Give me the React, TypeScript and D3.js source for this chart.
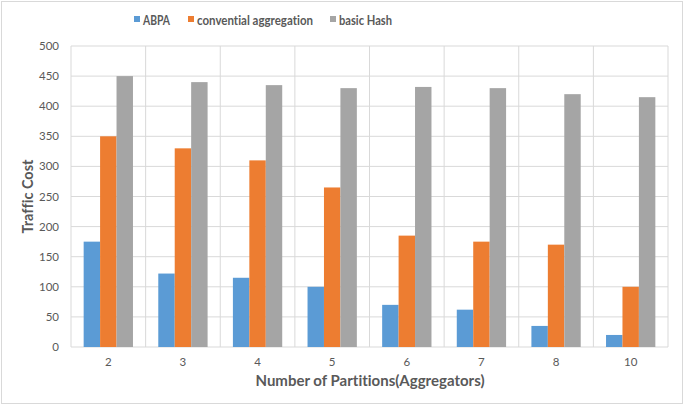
import { useRef, useEffect } from 'react';
import * as d3 from 'd3';

const partitions = ['2', '3', '4', '5', '6', '7', '8', '10'];
const seriesNames = ['ABPA', 'convential aggregation', 'basic Hash'];
const abpa = [175, 122, 115, 100, 70, 62, 35, 20];
const conventional = [350, 330, 310, 265, 185, 175, 170, 100];
const basicHash = [450, 440, 435, 430, 432, 430, 420, 415];
const yTicks = [0, 50, 100, 150, 200, 250, 300, 350, 400, 450, 500];
const colors = ['#5B9BD5', '#ED7D31', '#A5A5A5'];

const W = 685;
const H = 407;
const margin = { top: 46, right: 17, bottom: 60, left: 71 };
const font = 'Lato, "Open Sans", sans-serif';

const App = () => {
  const svgRef = useRef<SVGSVGElement>(null);

  useEffect(() => {
    const svg = d3.select(svgRef.current)
      .attr('width', W)
      .attr('height', H)
      .style('font-variant-ligatures', 'none');
    svg.selectAll('*').remove();

    // outer chart frame
    svg.append('rect')
      .attr('x', 1.5).attr('y', 1.5)
      .attr('width', W - 4).attr('height', H - 5)
      .attr('fill', '#fff')
      .attr('stroke', '#d9d9d9');

    const innerW = W - margin.left - margin.right;
    const innerH = H - margin.top - margin.bottom;
    const g = svg.append('g').attr('transform', `translate(${margin.left},${margin.top})`);

    const x = d3.scaleBand().domain(partitions).range([0, innerW]);
    const xs = d3.scaleBand().domain(seriesNames).range([0, x.bandwidth()]).paddingOuter(0.77);
    const y = d3.scaleLinear().domain([0, 500]).range([innerH, 0]);

    // horizontal gridlines
    g.selectAll('.hgrid')
      .data(yTicks)
      .enter().append('line')
      .attr('x1', 0).attr('x2', innerW)
      .attr('y1', d => y(d)).attr('y2', d => y(d))
      .attr('stroke', '#d9d9d9');

    // vertical category dividers
    const bounds = partitions.map(p => x(p) as number).concat([innerW]);
    g.selectAll('.vgrid')
      .data(bounds)
      .enter().append('line')
      .attr('x1', d => d).attr('x2', d => d)
      .attr('y1', 0).attr('y2', innerH)
      .attr('stroke', '#d9d9d9');

    const values = [abpa, conventional, basicHash];
    seriesNames.forEach((name, si) => {
      g.selectAll(`.bar${si}`)
        .data(values[si])
        .enter().append('rect')
        .attr('x', (_, i) => (x(partitions[i]) as number) + (xs(name) as number))
        .attr('y', d => y(d))
        .attr('width', xs.bandwidth())
        .attr('height', d => innerH - y(d))
        .attr('fill', colors[si]);
    });

    // y tick labels
    g.selectAll('.ylab')
      .data(yTicks)
      .enter().append('text')
      .attr('x', -12)
      .attr('y', d => y(d))
      .attr('dy', '0.35em')
      .attr('text-anchor', 'end')
      .attr('font-family', font)
      .attr('font-size', 11.5)
      .attr('fill', '#595959')
      .text(d => d);

    // x tick labels
    g.selectAll('.xlab')
      .data(partitions)
      .enter().append('text')
      .attr('x', d => (x(d) as number) + x.bandwidth() / 2)
      .attr('y', innerH + 19)
      .attr('text-anchor', 'middle')
      .attr('font-family', font)
      .attr('font-size', 11.5)
      .attr('fill', '#595959')
      .text(d => d);

    // axis titles
    svg.append('text')
      .attr('x', 370)
      .attr('y', 386)
      .attr('text-anchor', 'middle')
      .attr('font-family', font)
      .attr('font-size', 15)
      .attr('font-weight', 'bold')
      .attr('fill', '#595959')
      .text('Number of Partitions(Aggregators)');

    svg.append('text')
      .attr('transform', `translate(33,${margin.top + innerH / 2}) rotate(-90)`)
      .attr('text-anchor', 'middle')
      .attr('font-family', font)
      .attr('font-size', 14.5)
      .attr('font-weight', 'bold')
      .attr('fill', '#595959')
      .text('Traffic Cost');

    // legend
    const legendX = [134, 188, 330];
    const legendW = [27, 116, 53];
    const lg = svg.append('g');
    seriesNames.forEach((name, i) => {
      lg.append('rect')
        .attr('x', legendX[i]).attr('y', 16)
        .attr('width', 6).attr('height', 6)
        .attr('fill', colors[i]);
      lg.append('text')
        .attr('x', legendX[i] + 9)
        .attr('y', 24.5)
        .attr('font-family', font)
        .attr('font-size', 14)
        .attr('font-weight', 'bold')
        .attr('fill', '#595959')
        .attr('textLength', legendW[i])
        .attr('lengthAdjust', 'spacingAndGlyphs')
        .text(name);
    });
  }, []);

  return (
    <svg ref={svgRef} style={{ position: 'absolute', left: 0, top: 0 }}></svg>
  );
};

export default App;
